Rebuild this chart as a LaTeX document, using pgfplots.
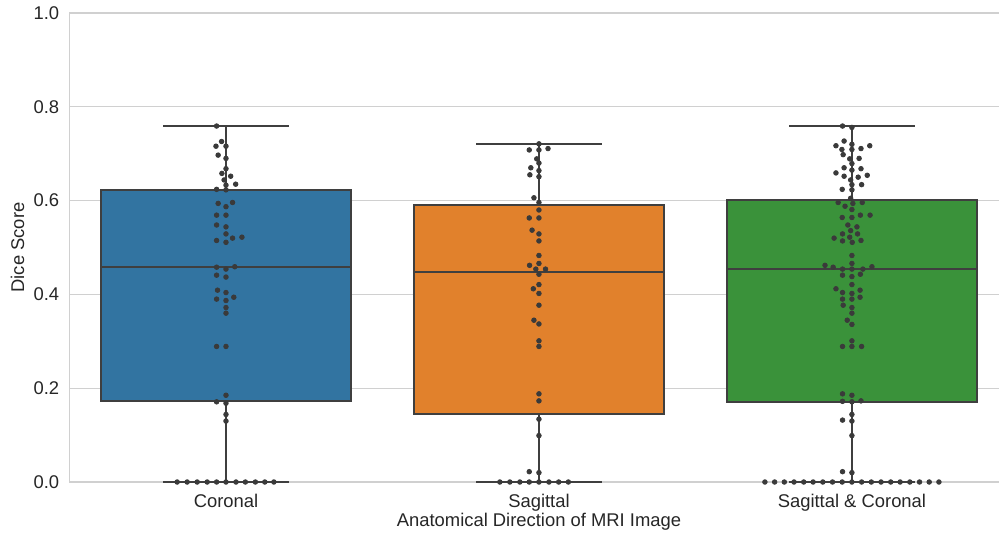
\documentclass[border=0pt]{standalone}
\usepackage{pgfplots}
\pgfplotsset{compat=1.18}
\usepgfplotslibrary{statistics}
\usepackage{fontspec}
\setmainfont{Liberation Sans}
\definecolor{cblue}{HTML}{3274A1}
\definecolor{corange}{HTML}{E1812C}
\definecolor{cgreen}{HTML}{3A923A}
\definecolor{edge}{HTML}{3F3F3F}
\definecolor{dotc}{HTML}{3A3A3A}
\definecolor{gridc}{HTML}{D0D0D0}
\definecolor{txt}{HTML}{262626}
\begin{document}
\begin{tikzpicture}
\begin{axis}[
  scale only axis, width=464.75pt, height=234.5pt,
  xmin=-0.5, xmax=2.47, ymin=0, ymax=1,
  boxplot/draw direction=y,
  axis lines*=left,
  axis line style={gridc, line width=0.6pt},
  ymajorgrids, grid style={gridc, line width=0.6pt},
  xtick={0,1,2}, xticklabels={Coronal, Sagittal, Sagittal \& Coronal},
  ytick={0,0.2,0.4,0.6,0.8,1.0},
  yticklabel style={/pgf/number format/fixed, /pgf/number format/fixed zerofill, /pgf/number format/precision=1, xshift=-1.6pt},
  /pgf/number format/assume math mode=true,
  major tick length=0pt,
  tick label style={font=\fontsize{9.2}{11}\selectfont, text=txt},
  label style={font=\fontsize{9.2}{11}\selectfont, text=txt},
  xticklabel style={anchor=base, yshift=-12.5pt},
  xlabel={Anatomical Direction of MRI Image},
  ylabel={Dice Score},
  xlabel style={at={(axis description cs:0.5051,0)}, anchor=base, yshift=-22pt},
  ylabel style={at={(axis description cs:-0.0559,0.5)}, anchor=center},
]
\addplot[boxplot prepared={draw position=0, lower whisker=0, lower quartile=0.172, median=0.458, upper quartile=0.623, upper whisker=0.759, box extend=0.8, whisker extend=0.4}, draw=edge, fill=cblue, line width=1pt] coordinates {};
\addplot[boxplot prepared={draw position=1, lower whisker=0, lower quartile=0.145, median=0.448, upper quartile=0.591, upper whisker=0.721, box extend=0.8, whisker extend=0.4}, draw=edge, fill=corange, line width=1pt] coordinates {};
\addplot[boxplot prepared={draw position=2, lower whisker=0, lower quartile=0.171, median=0.454, upper quartile=0.601, upper whisker=0.759, box extend=0.8, whisker extend=0.4}, draw=edge, fill=cgreen, line width=1pt] coordinates {};
% Coronal swarm
\addplot[only marks, mark=*, mark size=1.15pt, mark options={draw=dotc, fill=dotc}] coordinates {
(-0.030,0.759) (-0.014,0.726) (-0.032,0.716) (0,0.716) (-0.025,0.697) (0,0.690)
(0,0.668) (-0.013,0.658) (0.015,0.652) (-0.006,0.644) (0.031,0.635) (0,0.633)
(-0.030,0.624) (0,0.623) (-0.025,0.594) (0,0.587) (0.021,0.596) (-0.030,0.569)
(0,0.569) (-0.030,0.548) (0,0.544) (0,0.529) (-0.030,0.515) (0,0.511)
(0.021,0.520) (0.051,0.522) (-0.030,0.458) (0,0.454) (0.028,0.459) (-0.030,0.441)
(0,0.437) (-0.027,0.409) (0,0.404) (0.025,0.394) (-0.030,0.390) (0,0.387)
(0,0.372) (0,0.360) (-0.030,0.289) (0,0.289) (0,0.185) (-0.030,0.171)
(0,0.168) (0,0.144) (0,0.130)
(-0.156,0) (-0.124,0) (-0.092,0) (-0.060,0) (-0.030,0) (0,0) (0.032,0) (0.062,0) (0.094,0) (0.124,0) (0.153,0)
};
% Sagittal swarm
\addplot[only marks, mark=*, mark size=1.15pt, mark options={draw=dotc, fill=dotc}] coordinates {
(1,0.721) (0.969,0.708) (1,0.708) (1.029,0.711) (0.993,0.689) (1,0.680)
(0.974,0.670) (1,0.664) (0.971,0.655) (1,0.651) (0.984,0.606) (1,0.596)
(1,0.580) (0.969,0.563) (1,0.563) (0.978,0.537) (1,0.529) (1,0.514)
(1,0.483) (1,0.466) (0.970,0.462) (0.990,0.454) (1.021,0.454) (1,0.443)
(1,0.421) (0.982,0.412) (1,0.402) (1,0.377) (0.984,0.345) (1,0.337)
(1,0.301) (1,0.289) (1,0.188) (1,0.173) (1,0.134) (1,0.099)
(0.969,0.022) (1,0.020)
(0.875,0) (0.907,0) (0.939,0) (0.969,0) (1,0) (1.032,0) (1.063,0) (1.094,0)
};
% Sagittal & Coronal swarm
\addplot[only marks, mark=*, mark size=1.15pt, mark options={draw=dotc, fill=dotc}] coordinates {
(1.970,0.759) (2,0.756) (1.975,0.727) (1.949,0.717) (2,0.720) (2.057,0.717)
(1.968,0.709) (2,0.709) (2.029,0.711) (1.972,0.698) (1.993,0.689) (2.023,0.690)
(2,0.679) (1.975,0.670) (2,0.665) (2.029,0.668) (1.949,0.659) (1.975,0.652)
(2.020,0.650) (2.049,0.654) (1.996,0.644) (2,0.634) (2.031,0.634) (1.969,0.624)
(2,0.623) (1.996,0.605) (1.956,0.596) (2.003,0.594) (2.033,0.596) (1.978,0.588)
(2,0.581) (1.969,0.564) (2,0.564) (2.027,0.569) (2.058,0.569) (1.987,0.548)
(2.016,0.544) (1.996,0.536) (1.970,0.529) (2.018,0.529) (1.943,0.520) (1.993,0.522)
(1.970,0.514) (2.001,0.511) (2.029,0.515) (2,0.483) (2,0.466) (1.914,0.462)
(1.940,0.458) (1.970,0.454) (2,0.454) (2.035,0.454) (2.064,0.459) (1.970,0.441)
(2,0.438) (2.027,0.443) (2,0.421) (1.949,0.412) (1.970,0.404) (2,0.402)
(2.026,0.409) (1.970,0.390) (2,0.390) (2.026,0.394) (1.972,0.377) (2,0.372)
(2,0.360) (1.985,0.345) (2,0.336) (2,0.301) (1.970,0.289) (2,0.289)
(2.031,0.289) (1.970,0.188) (2,0.185) (1.970,0.172) (2,0.171) (2.029,0.173)
(2,0.144) (1.970,0.132) (2,0.130) (2,0.099) (1.970,0.022) (2,0.020)
(1.722,0) (1.753,0) (1.784,0) (1.815,0) (1.846,0) (1.876,0) (1.907,0) (1.938,0) (1.969,0) (2,0)
(2.031,0) (2.062,0) (2.093,0) (2.124,0) (2.154,0) (2.185,0) (2.216,0) (2.247,0) (2.278,0)
};
\end{axis}
\pgfresetboundingbox
\path[use as bounding box] (-34.75pt,-25pt) rectangle (464.75pt,241pt);
\end{tikzpicture}
\end{document}
